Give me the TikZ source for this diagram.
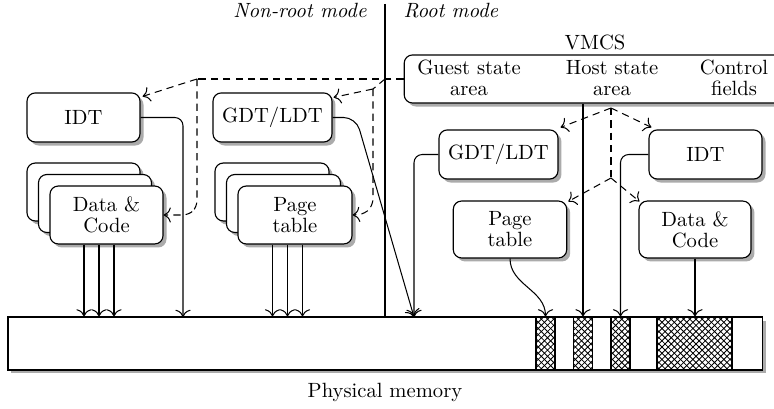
\documentclass[tikz,border=0pt]{standalone}
\usetikzlibrary{shadows,patterns,arrows.meta}
\begin{document}
\begin{tikzpicture}[x=0.485pt,y=-0.485pt,
  >={To[scale=1.3]},
  line width=0.5pt,
  shad/.style={drop shadow={shadow xshift=1.7pt,shadow yshift=-1.7pt,fill=black!33,opacity=1}},
  box/.style={draw,line width=0.55pt,rounded corners=4pt,fill=white,inner sep=0pt,align=center,
    font=\fontsize{10pt}{10.2pt}\selectfont,shad},
  smallbox/.style={box,minimum width=54.8pt,minimum height=23.8pt},
  widebox/.style={box,minimum width=57.7pt,minimum height=23.8pt},
  stackbox/.style={box,minimum width=54.8pt,minimum height=28.1pt},
  rbox/.style={box,minimum width=55pt,minimum height=27.6pt},
  lbl/.style={align=center,inner sep=0pt,font=\fontsize{10pt}{10.2pt}\selectfont},
  conn/.style={->},
  dsh/.style={dash pattern=on 3.5pt off 2.5pt},
  dconn/.style={->,dsh},
  hatch/.style={draw,line width=0.55pt,pattern=crosshatch,minimum height=25.7pt,inner sep=0pt},
]
\useasboundingbox (0,0) rectangle (774,409);

% mode labels
\node[anchor=base east,font=\itshape,inner sep=0pt] (nonroot) at (367,17.3) {Non-root mode};
\node[anchor=base west,font=\itshape,inner sep=0pt] (root) at (403,17.3) {Root mode};

% memory
\node[draw,line width=0.5pt,fill=white,shad,minimum width=365.7pt,minimum height=25.7pt,inner sep=0pt] (mem) at (385,343.5) {};
\node[hatch,minimum width=9.2pt] (h1) at (545.5,343.5) {};
\node[hatch,minimum width=9.4pt] (h2) at (583,343.5) {};
\node[hatch,minimum width=9.2pt] (h3) at (620.5,343.5) {};
\node[hatch,minimum width=36.4pt] (h4) at (694.5,343.5) {};
\node[lbl] (phys) at (385,392) {Physical memory};

% divider
\coordinate (ttop) at (385,4);
\draw[line width=1.4pt] (ttop) -- (ttop |- mem.north);

% non-root side
\node[smallbox] (idtL) at (83.5,117.5) {IDT};
\node[widebox] (gdtL) at (272.5,117.5) {GDT/LDT};
\node[stackbox] (dcL3) at (83.5,192) {};
\node[stackbox] (dcL2) at (95,203.5) {};
\node[stackbox] (dcL) at (106.5,215) {Data \&\\Code};
\node[stackbox,minimum width=55.3pt] (ptL3) at (272,192) {};
\node[stackbox,minimum width=55.3pt] (ptL2) at (283.5,203.5) {};
\node[stackbox,minimum width=55.3pt] (ptL) at (295,215) {Page\\table};

% root side
\node[box,minimum width=187pt,minimum height=23.3pt] (vmcs) at (597,79) {};
\node[lbl] (vmcslbl) at (595,42) {VMCS};
\node[lbl] (guest) at (469,78) {Guest state\\area};
\node[lbl] (host) at (612,78) {Host state\\area};
\node[lbl] (ctrl) at (734,78) {Control\\fields};
\node[widebox] (gdtR) at (498.5,154.5) {GDT/LDT};
\node[smallbox] (idtR) at (705.5,154.5) {IDT};
\node[rbox] (ptR) at (510,229.5) {Page\\table};
\node[rbox,minimum width=54.3pt] (dcR) at (695,229.5) {Data \&\\Code};

% solid connectors
\foreach \dx/\nm in {-22.5/a,-7.5/b,7.5/c}{
  \draw[conn] (dcL.south) ++(\dx,0) coordinate (dcs\nm) -- (dcs\nm |- mem.north);
  \draw[conn] (ptL.south) ++(\dx,0) coordinate (pts\nm) -- (pts\nm |- mem.north);
}
\coordinate (cIdtL) at (183,317);
\coordinate (cGdt) at (414,317);
\draw[conn,rounded corners=4pt] (idtL.east) -| (cIdtL);
\draw[conn,rounded corners=6pt] (gdtL.east) -- (356,117.5) -- (cGdt);
\draw[conn,rounded corners=4pt] (gdtR.west) -| (cGdt);
\draw[conn,rounded corners=4pt] (idtR.west) -| (h3.north);
\draw[conn] (vmcs.south -| h2.north) -- (h2.north);
\draw[conn] (ptR.south) to[out=-90,in=90] (h1.north);
\draw[conn] (dcR.south) -- (dcR.south |- h4.north);

% dashed connectors, non-root side
\coordinate (jA) at (197,79);
\coordinate (jB) at (385,79);
\coordinate (jC) at (373,89);
\draw[dsh] (vmcs.west) -- (jA);
\draw[dconn] (jA) -- ([shift={(2,4)}]idtL.north east);
\draw[dconn,rounded corners=3pt] (jA) -- (197,207) -- (189,215) -- (dcL.east);
\draw[dsh] (jB) -- (jC);
\draw[dconn] (jC) -- ([shift={(1,5)}]gdtL.north east);
\draw[dconn,rounded corners=3pt] (jC) -- (373,205) -- (365,214) -- (ptL.east);

% dashed connectors, root side
\coordinate (kA) at (611,108);
\coordinate (kB) at (611,178);
\draw[dconn] (kA) -- ([shift={(2,-2)}]gdtR.north east);
\draw[dconn] (kA) -- ([shift={(3,-2)}]idtR.north west);
\draw[dsh] (kA) -- (kB);
\draw[dconn] (kB) -- ([shift={(1,1)}]ptR.north east);
\draw[dconn] (kB) -- ([shift={(1,1)}]dcR.north west);
\end{tikzpicture}
\end{document}
